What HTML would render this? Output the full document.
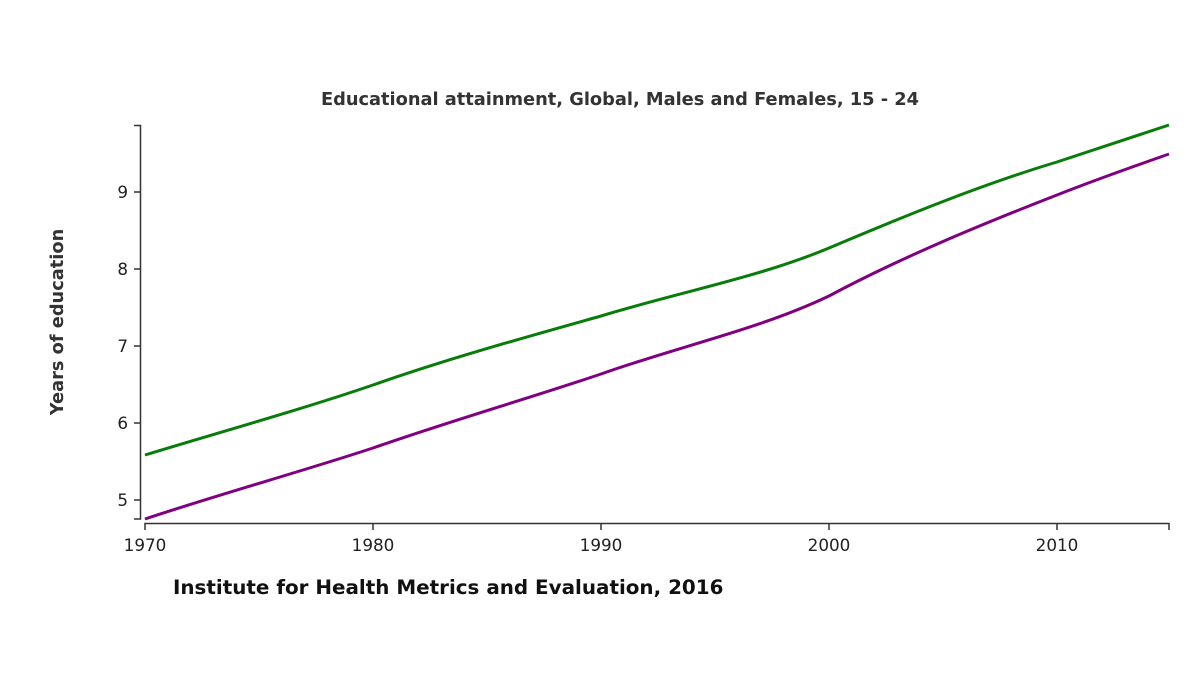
<!DOCTYPE html>
<html><head><meta charset="utf-8"><style>
html,body{margin:0;padding:0;background:#fff;}
svg{display:block;font-family:"DejaVu Sans","Liberation Sans",sans-serif;}
</style></head><body>
<svg width="1200" height="696" viewBox="0 0 1200 696">
<text x="620" y="105" text-anchor="middle" font-size="17.8" font-weight="bold" fill="#333">Educational attainment, Global, Males and Females, 15 - 24</text>
<g stroke="#333" stroke-width="1.5" fill="none">
<path d="M134,125.5H140.5V519H134"/>
<line x1="134" y1="192" x2="140" y2="192"/>
<line x1="134" y1="269" x2="140" y2="269"/>
<line x1="134" y1="346" x2="140" y2="346"/>
<line x1="134" y1="423" x2="140" y2="423"/>
<line x1="134" y1="500" x2="140" y2="500"/>
<path d="M145,530V523.5H1169V530"/>
<line x1="373" y1="523" x2="373" y2="530"/>
<line x1="601" y1="523" x2="601" y2="530"/>
<line x1="829" y1="523" x2="829" y2="530"/>
<line x1="1057" y1="523" x2="1057" y2="530"/>
</g>
<g font-size="16.8" fill="#222" text-anchor="end">
<text x="128" y="198">9</text><text x="128" y="275">8</text><text x="128" y="352">7</text><text x="128" y="429">6</text><text x="128" y="506">5</text>
</g>
<g font-size="16.8" fill="#222" text-anchor="middle">
<text x="145" y="551">1970</text><text x="373" y="551">1980</text><text x="601" y="551">1990</text><text x="829" y="551">2000</text><text x="1057" y="551">2010</text>
</g>
<text transform="translate(63,322) rotate(-90)" text-anchor="middle" font-size="17.8" font-weight="bold" fill="#333">Years of education</text>
<text x="173" y="594" font-size="19.9" font-weight="bold" fill="#111">Institute for Health Metrics and Evaluation, 2016</text>
<path fill="none" stroke="#087c08" stroke-width="3" d="M145,455 C220,432 300,410 373,385 C450,358 530,336 601,316 C680,292 760,277 829,248 C900,218 980,185 1057,162 C1100,148 1135,136 1169,125"/>
<path fill="none" stroke="#800080" stroke-width="3" d="M145,519 C220,494 300,472 373,448 C450,421 530,398 601,374 C680,346 760,329 829,296 C900,258 980,225 1057,195 C1100,178 1135,166 1169,154"/>
</svg>
</body></html>
